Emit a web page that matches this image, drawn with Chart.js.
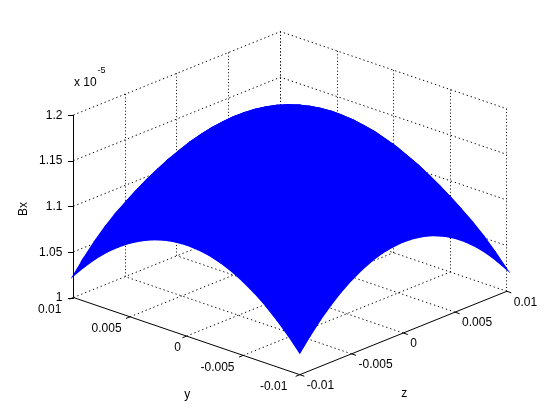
<!DOCTYPE html>
<html>
<head>
<meta charset="utf-8">
<title>Bx surface</title>
<style>
    html, body { margin: 0; padding: 0; background: #fff; }
    canvas { display: block; }
</style>
<script src="https://cdn.jsdelivr.net/npm/chart.js@4/dist/chart.umd.js"></script>
</head>
<body>
<canvas id="surfaceChart" width="560" height="420"></canvas>
<script>
// Tick values and labels
const yTicks = [0.01, 0.005, 0, -0.005, -0.01];
const yTickLabels = ['0.01', '0.005', '0', '-0.005', '-0.01'];
const zTicks = [-0.01, -0.005, 0, 0.005, 0.01];
const zTickLabels = ['-0.01', '-0.005', '0', '0.005', '0.01'];
const bxTicks = [1, 1.05, 1.1, 1.15, 1.2];
const bxTickLabels = ['1', '1.05', '1.1', '1.15', '1.2'];

// Sample distances from the centre, the surface looks the same in all four quadrants
const yGrid = [0, 0.001, 0.002, 0.003, 0.004, 0.005, 0.006, 0.007, 0.008, 0.009, 0.01];
const zGrid = [0, 0.001, 0.002, 0.003, 0.004, 0.005, 0.006, 0.007, 0.008, 0.009, 0.01];

// Bx (x 1e-5), one row per yGrid entry
const bxRow0 = [1.1978, 1.1968, 1.1939, 1.1890, 1.1822, 1.1734, 1.1626, 1.1499, 1.1352, 1.1186, 1.1000];
const bxRow1 = [1.1968, 1.1958, 1.1929, 1.1880, 1.1812, 1.1724, 1.1617, 1.1490, 1.1343, 1.1178, 1.0992];
const bxRow2 = [1.1939, 1.1929, 1.1900, 1.1852, 1.1784, 1.1697, 1.1590, 1.1464, 1.1319, 1.1154, 1.0970];
const bxRow3 = [1.1890, 1.1880, 1.1852, 1.1804, 1.1737, 1.1650, 1.1545, 1.1420, 1.1277, 1.1114, 1.0932];
const bxRow4 = [1.1822, 1.1812, 1.1784, 1.1737, 1.1671, 1.1586, 1.1482, 1.1359, 1.1218, 1.1058, 1.0878];
const bxRow5 = [1.1734, 1.1724, 1.1697, 1.1650, 1.1586, 1.1503, 1.1401, 1.1281, 1.1143, 1.0985, 1.0810];
const bxRow6 = [1.1626, 1.1617, 1.1590, 1.1545, 1.1482, 1.1401, 1.1302, 1.1185, 1.1050, 1.0897, 1.0726];
const bxRow7 = [1.1499, 1.1490, 1.1464, 1.1420, 1.1359, 1.1281, 1.1185, 1.1072, 1.0941, 1.0793, 1.0628];
const bxRow8 = [1.1352, 1.1343, 1.1319, 1.1277, 1.1218, 1.1143, 1.1050, 1.0941, 1.0815, 1.0673, 1.0514];
const bxRow9 = [1.1186, 1.1178, 1.1154, 1.1114, 1.1058, 1.0985, 1.0897, 1.0793, 1.0673, 1.0537, 1.0384];
const bxRow10 = [1.1000, 1.0992, 1.0970, 1.0932, 1.0878, 1.0810, 1.0726, 1.0628, 1.0514, 1.0384, 1.0240];
const bxRows = [bxRow0, bxRow1, bxRow2, bxRow3, bxRow4, bxRow5, bxRow6, bxRow7, bxRow8, bxRow9, bxRow10];

const yMax = 0.01, zMax = 0.01, bxMin = 1, bxMax = 1.2;

// View of the 3D box on the flat chart scales
function project(y, z, bx) {
    var u = y / yMax, v = z / zMax, h = (bx - bxMin) / (bxMax - bxMin);
    return {
        x: 290.1 - 113.2 * u + 103.5 * v,
        y: 294.4 - 38.6 * u - 41.7 * v - 182.5 * h
    };
}

// Keep upright lines on one pixel column so they stay crisp
function upright(y, z) {
    var low = project(y, z, bxMin), high = project(y, z, bxMax);
    var col = Math.floor(low.x) + 0.5;
    return [{ x: col, y: low.y }, { x: col, y: high.y }];
}

var datasets = [];

function addLine(points, color, dash, order) {
    datasets.push({
        data: points,
        borderColor: color,
        borderWidth: 1,
        borderDash: dash,
        pointRadius: 0,
        fill: false,
        tension: 0,
        order: order
    });
}

// Dotted grid on the floor and the two back walls
var dots = [1.3, 2.9];
yTicks.forEach(function(y) {
    if (y !== -yMax) addLine([project(y, -zMax, bxMin), project(y, zMax, bxMin)], '#000', dots, 3);
    addLine(upright(y, zMax), '#000', [1, 2.3], 3);
});
zTicks.forEach(function(z) {
    if (z !== -zMax) addLine([project(-yMax, z, bxMin), project(yMax, z, bxMin)], '#000', dots, 3);
    if (z !== -zMax) addLine(upright(yMax, z), '#000', [1, 2.3], 3);
});
bxTicks.forEach(function(b) {
    if (b === bxMin) return;
    addLine([project(yMax, -zMax, b), project(yMax, zMax, b), project(-yMax, zMax, b)], '#000', dots, 3);
});

// Solid axes and tick marks
addLine(upright(yMax, -zMax), '#000', [], 0);
addLine([project(yMax, -zMax, bxMin), project(-yMax, -zMax, bxMin), project(-yMax, zMax, bxMin)], '#000', [], 0);
yTicks.forEach(function(y) {
    addLine([project(y, -zMax, bxMin), project(y, -zMax * 1.04, bxMin)], '#000', [], 0);
});
zTicks.forEach(function(z) {
    addLine([project(-yMax, z, bxMin), project(-yMax * 1.04, z, bxMin)], '#000', [], 0);
});
bxTicks.forEach(function(b) {
    var p = project(yMax, -zMax, b);
    addLine([{ x: p.x + 0.5, y: Math.round(p.y) + 0.5 }, { x: p.x - 5.5, y: Math.round(p.y) + 0.5 }], '#000', [], 0);
});

// Surface, one filled quad per grid cell in each quadrant
[[1, 1], [1, -1], [-1, 1], [-1, -1]].forEach(function(sign) {
    for (var i = 0; i < yGrid.length - 1; i++) {
        for (var j = 0; j < zGrid.length - 1; j++) {
            var a = project(sign[0] * yGrid[i], sign[1] * zGrid[j], bxRows[i][j]);
            var b = project(sign[0] * yGrid[i + 1], sign[1] * zGrid[j], bxRows[i + 1][j]);
            var c = project(sign[0] * yGrid[i + 1], sign[1] * zGrid[j + 1], bxRows[i + 1][j + 1]);
            var d = project(sign[0] * yGrid[i], sign[1] * zGrid[j + 1], bxRows[i][j + 1]);
            datasets.push({
                data: [a, b, c, d, a],
                borderColor: '#0000ff',
                backgroundColor: '#0000ff',
                borderWidth: 1.5,
                pointRadius: 0,
                fill: 'shape',
                tension: 0,
                order: 1
            });
        }
    }
});

// Tick labels, axis labels and the exponent note
const axisText = {
    id: 'axisText',
    afterDraw: function(chart) {
        var ctx = chart.ctx, sx = chart.scales.x, sy = chart.scales.y;
        var yShift = [-12, -8.4, -5.7, -8.7, -12.5];

        function put(text, px, py, align, size) {
            ctx.font = (size || 12) + 'px "Liberation Sans", Arial, sans-serif';
            ctx.textAlign = align;
            ctx.textBaseline = 'middle';
            ctx.fillStyle = '#000';
            ctx.fillText(text, px, py);
        }

        ctx.save();
        bxTicks.forEach(function(b, i) {
            var p = project(yMax, -zMax, b);
            put(bxTickLabels[i], sx.getPixelForValue(p.x) - 11, sy.getPixelForValue(p.y) + 0.5, 'right');
        });
        yTicks.forEach(function(y, i) {
            var p = project(y, -zMax, bxMin);
            put(yTickLabels[i], sx.getPixelForValue(p.x) + yShift[i], sy.getPixelForValue(p.y) + 12, 'right');
        });
        zTicks.forEach(function(z, i) {
            var p = project(-yMax, z, bxMin);
            put(zTickLabels[i], sx.getPixelForValue(p.x) + 7, sy.getPixelForValue(p.y) + 11, 'left');
        });
        put('y', 187.3, 394.5, 'center');
        put('z', 404.3, 393.5, 'center');
        put('x 10', 74, 83, 'left');
        put('-5', 97.5, 71, 'left', 9);

        ctx.translate(23.5, 209);
        ctx.rotate(-Math.PI / 2);
        put('Bx', 0, 0, 'center');
        ctx.restore();
    }
};

new Chart(document.getElementById('surfaceChart').getContext('2d'), {
    type: 'line',
    data: { datasets: datasets },
    options: {
        responsive: false,
        animation: false,
        parsing: false,
        normalized: true,
        layout: { padding: 0 },
        plugins: {
            legend: { display: false },
            tooltip: { enabled: false }
        },
        scales: {
            x: { type: 'linear', display: false, min: 0, max: 560 },
            y: { type: 'linear', display: false, min: 0, max: 420, reverse: true }
        }
    },
    plugins: [axisText]
});
</script>
</body>
</html>
